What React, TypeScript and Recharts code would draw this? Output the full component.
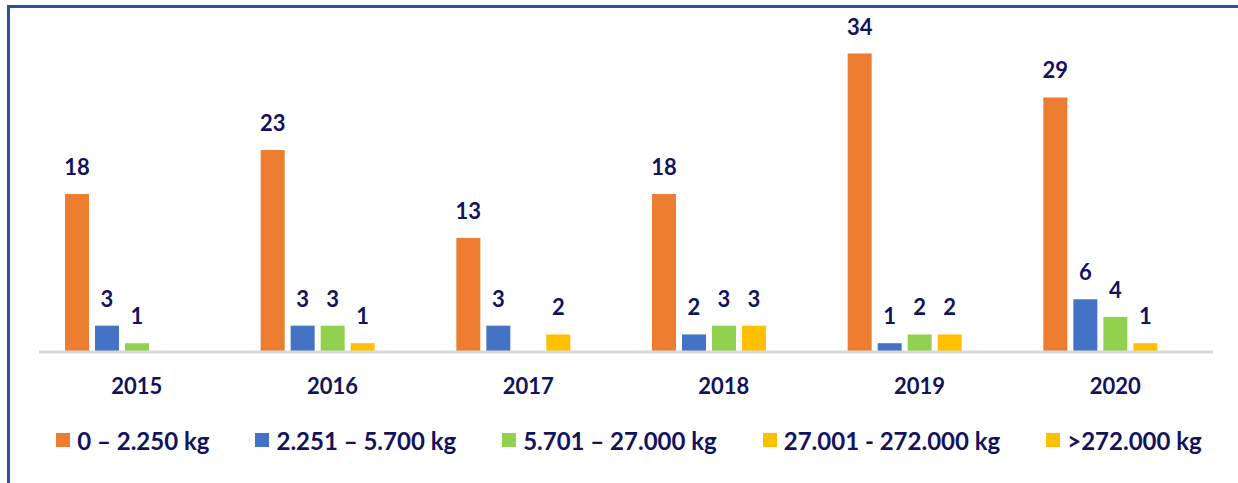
import React from 'react';
import { BarChart, Bar, XAxis, YAxis, Legend, LabelList } from 'recharts';

const years = ['2015', '2016', '2017', '2018', '2019', '2020'];
const cls1 = [18, 23, 13, 18, 34, 29];
const cls2 = [3, 3, 3, 2, 1, 6];
const cls3 = [1, 3, 0, 3, 2, 4];
const cls4 = [0, 1, 2, 3, 2, 1];
const cls5 = [0, 0, 0, 0, 0, 0];

const seriesNames = ['0 – 2.250 kg', '2.251 – 5.700 kg', '5.701 – 27.000 kg', '27.001 - 272.000 kg', '>272.000 kg'];
const seriesColors = ['#ED7D31', '#4472C4', '#92D050', '#FFC000', '#FFC000'];
const seriesValues = [cls1, cls2, cls3, cls4, cls5];

const data = years.map((year, i) => {
  const row: Record<string, string | number> = { year };
  seriesValues.forEach((vals, s) => {
    row['s' + s] = vals[i];
  });
  return row;
});

const NAVY = '#12125E';
const FONT = 'Lato, "Noto Sans", sans-serif';

const LegendContent = () => (
  <div
    style={{
      display: 'flex',
      justifyContent: 'center',
      alignItems: 'center',
      gap: 46,
      height: 40,
      fontFamily: FONT,
      fontWeight: 700,
      fontSize: 24,
      color: NAVY,
      paddingLeft: 6,
    }}
  >
    {seriesNames.map((name, i) => (
      <div key={name} style={{ display: 'flex', alignItems: 'center' }}>
        <span style={{ width: 14, height: 14, background: seriesColors[i], marginRight: 7 }} />
        <span style={{ whiteSpace: 'nowrap' }}>{name}</span>
      </div>
    ))}
  </div>
);

export default function App() {
  return (
    <div style={{ position: 'absolute', left: 0, top: 0, width: 1238, height: 483, overflow: 'hidden', background: '#fff' }}>
      <div
        style={{
          position: 'absolute',
          left: 7,
          top: 5,
          width: 1300,
          height: 600,
          border: '3px solid #2F4FA2',
        }}
      />
      <div style={{ position: 'absolute', left: 0, top: 0 }}>
        <BarChart
          width={1238}
          height={483}
          data={data}
          margin={{ top: 36, right: 25, left: 39, bottom: 23 }}
          barCategoryGap={26}
          barGap={6}
        >
          <XAxis
            dataKey="year"
            height={68}
            axisLine={{ stroke: '#D9D9D9', strokeWidth: 3 }}
            tickLine={false}
            tickMargin={20}
            tick={{ fill: NAVY, fontSize: 22, fontWeight: 700, fontFamily: FONT }}
          />
          <YAxis hide domain={[0, 36]} />
          <Legend verticalAlign="bottom" content={<LegendContent />} />
          {seriesNames.map((name, i) => (
            <Bar key={name} dataKey={'s' + i} name={name} fill={seriesColors[i]} isAnimationActive={false}>
              <LabelList
                dataKey={'s' + i}
                position="top"
                offset={19}
                formatter={(v: any) => (v === 0 ? '' : v)}
                style={{ fill: NAVY, fontSize: 22, fontWeight: 700, fontFamily: FONT }}
              />
            </Bar>
          ))}
        </BarChart>
      </div>
    </div>
  );
}
